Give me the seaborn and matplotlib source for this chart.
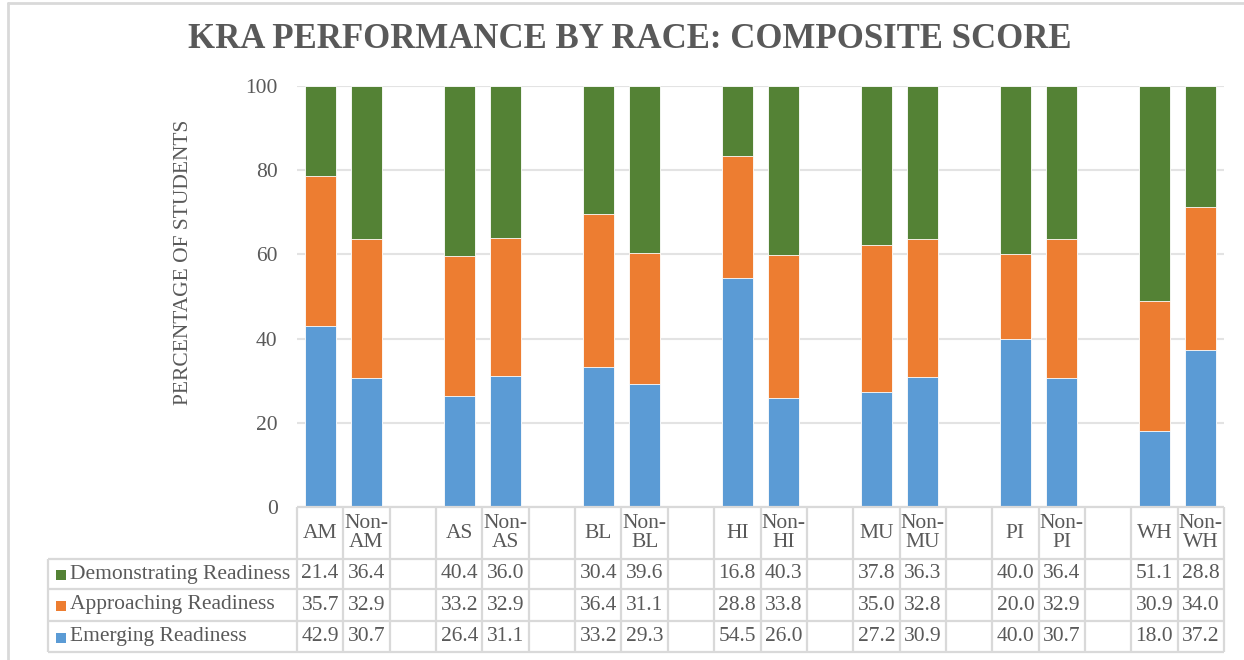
import numpy as np
import pandas as pd
import matplotlib
matplotlib.use("Agg")
import matplotlib.pyplot as plt
from matplotlib.lines import Line2D
import seaborn as sns

# ---------------- data ----------------
groups = ["AM", "Non-AM", "AS", "Non-AS", "BL", "Non-BL", "HI", "Non-HI",
          "MU", "Non-MU", "PI", "Non-PI", "WH", "Non-WH"]
demonstrating = [21.4, 36.4, 40.4, 36.0, 30.4, 39.6, 16.8, 40.3, 37.8, 36.3, 40.0, 36.4, 51.1, 28.8]
approaching = [35.7, 32.9, 33.2, 32.9, 36.4, 31.1, 28.8, 33.8, 35.0, 32.8, 20.0, 32.9, 30.9, 34.0]
emerging = [42.9, 30.7, 26.4, 31.1, 33.2, 29.3, 54.5, 26.0, 27.2, 30.9, 40.0, 30.7, 18.0, 37.2]
series_names = ["Demonstrating Readiness", "Approaching Readiness", "Emerging Readiness"]
series_values = [demonstrating, approaching, emerging]
colors = ["#548235", "#ED7D31", "#5B9BD5"]
title = "KRA PERFORMANCE BY RACE: COMPOSITE SCORE"
ylabel = "PERCENTAGE OF STUDENTS"
yticks = [0, 20, 40, 60, 80, 100]

# slots with blank gap columns between pairs
slots = []
for i, g in enumerate(groups):
    slots.append(g)
    if i % 2 == 1 and i < len(groups) - 1:
        slots.append(" " * (i // 2 + 1))

df = pd.DataFrame({"group": groups,
                   "Emerging": emerging,
                   "Approaching": approaching,
                   "Demonstrating": demonstrating})
df["c1"] = df["Emerging"]
df["c2"] = df["Emerging"] + df["Approaching"]
df["c3"] = df["c2"] + df["Demonstrating"]

# ---------------- figure ----------------
sns.set_theme(style="white")
plt.rcParams["font.family"] = ["Liberation Serif", "DejaVu Serif"]
TXT = "#595959"
GRID = "#e3e3e3"
LINE = "#d9d9d9"
FS = 15.5

W, H = 1244, 660
fig = plt.figure(figsize=(W / 100, H / 100), dpi=100)
fig.patch.set_facecolor("white")

left_px, right_px, top_px, base_px, tbot_px = 297, 1224, 86, 507, 652
ax = fig.add_axes([left_px / W, 1 - base_px / H, (right_px - left_px) / W, (base_px - top_px) / H])

for col, c in [("c3", colors[0]), ("c2", colors[1]), ("c1", colors[2])]:
    sns.barplot(data=df, x="group", y=col, order=slots, color=c, width=0.67,
                errorbar=None, saturation=1, edgecolor="white", linewidth=0.6, ax=ax, zorder=3)

ax.set_ylim(0, 100)
ax.set_yticks(yticks)
ax.set_yticklabels([str(t) for t in yticks], fontsize=FS, color=TXT)
ax.tick_params(axis="y", length=0, pad=14)
ax.tick_params(axis="x", length=0, labelbottom=False)
ax.set_xlabel("")
ax.set_ylabel("")
for s in ax.spines.values():
    s.set_visible(False)
ax.grid(axis="y", color=GRID, lw=1.5, zorder=0)
ax.set_axisbelow(True)
xlim = ax.get_xlim()

fig.text(183 / W, 1 - 262 / H, ylabel, rotation=90, ha="center", va="center",
         fontsize=FS, color=TXT)
fig.text(630 / W, 1 - 40 / H, title, ha="center", va="center", fontsize=25,
         fontweight="bold", color=TXT)

# ---------------- data table ----------------
axt = fig.add_axes([left_px / W, 1 - tbot_px / H, (right_px - left_px) / W, (tbot_px - base_px) / H])
axt.set_xlim(xlim)
axt.set_ylim(tbot_px, base_px)
axt.axis("off")
slot_px = (right_px - left_px) / (xlim[1] - xlim[0])


def px2x(px):
    return xlim[0] + (px - left_px) / slot_px


xL = px2x(48)
row_lines = [559, 589, 621, 652]
kw = dict(color=LINE, lw=1.6, clip_on=False, solid_capstyle="butt")
axt.plot([xlim[0], xlim[1]], [base_px, base_px], **kw)
for y in row_lines:
    axt.plot([xL, xlim[1]], [y, y], **kw)
for k in range(len(slots) + 1):
    axt.plot([xlim[0] + k, xlim[0] + k], [base_px, tbot_px], **kw)
axt.plot([xL, xL], [row_lines[0], tbot_px], **kw)

for i, s in enumerate(slots):
    if not s.strip():
        continue
    lab = s.replace("Non-", "Non-\n")
    axt.text(i, 533, lab, ha="center", va="center", fontsize=FS, color=TXT, linespacing=1.0)

row_centers = [(row_lines[j] + row_lines[j + 1]) / 2 for j in range(3)]
for name, vals, c, yc in zip(series_names, series_values, colors, row_centers):
    axt.scatter([px2x(61)], [yc + 1], marker="s", s=60, color=c, clip_on=False, linewidths=0)
    axt.text(px2x(70), yc, name, ha="left", va="center", fontsize=FS, color=TXT)
    vi = 0
    for i, s in enumerate(slots):
        if not s.strip():
            continue
        axt.text(i, yc, f"{vals[vi]:.1f}", ha="center", va="center", fontsize=FS, color=TXT)
        vi += 1

# outer frame (left and top)
fig.add_artist(Line2D([8 / W, 8 / W], [0, 1 - 3 / H], color=LINE, lw=2))
fig.add_artist(Line2D([8 / W, 1], [1 - 3 / H, 1 - 3 / H], color=LINE, lw=2))

fig.savefig("out.png", dpi=100)
